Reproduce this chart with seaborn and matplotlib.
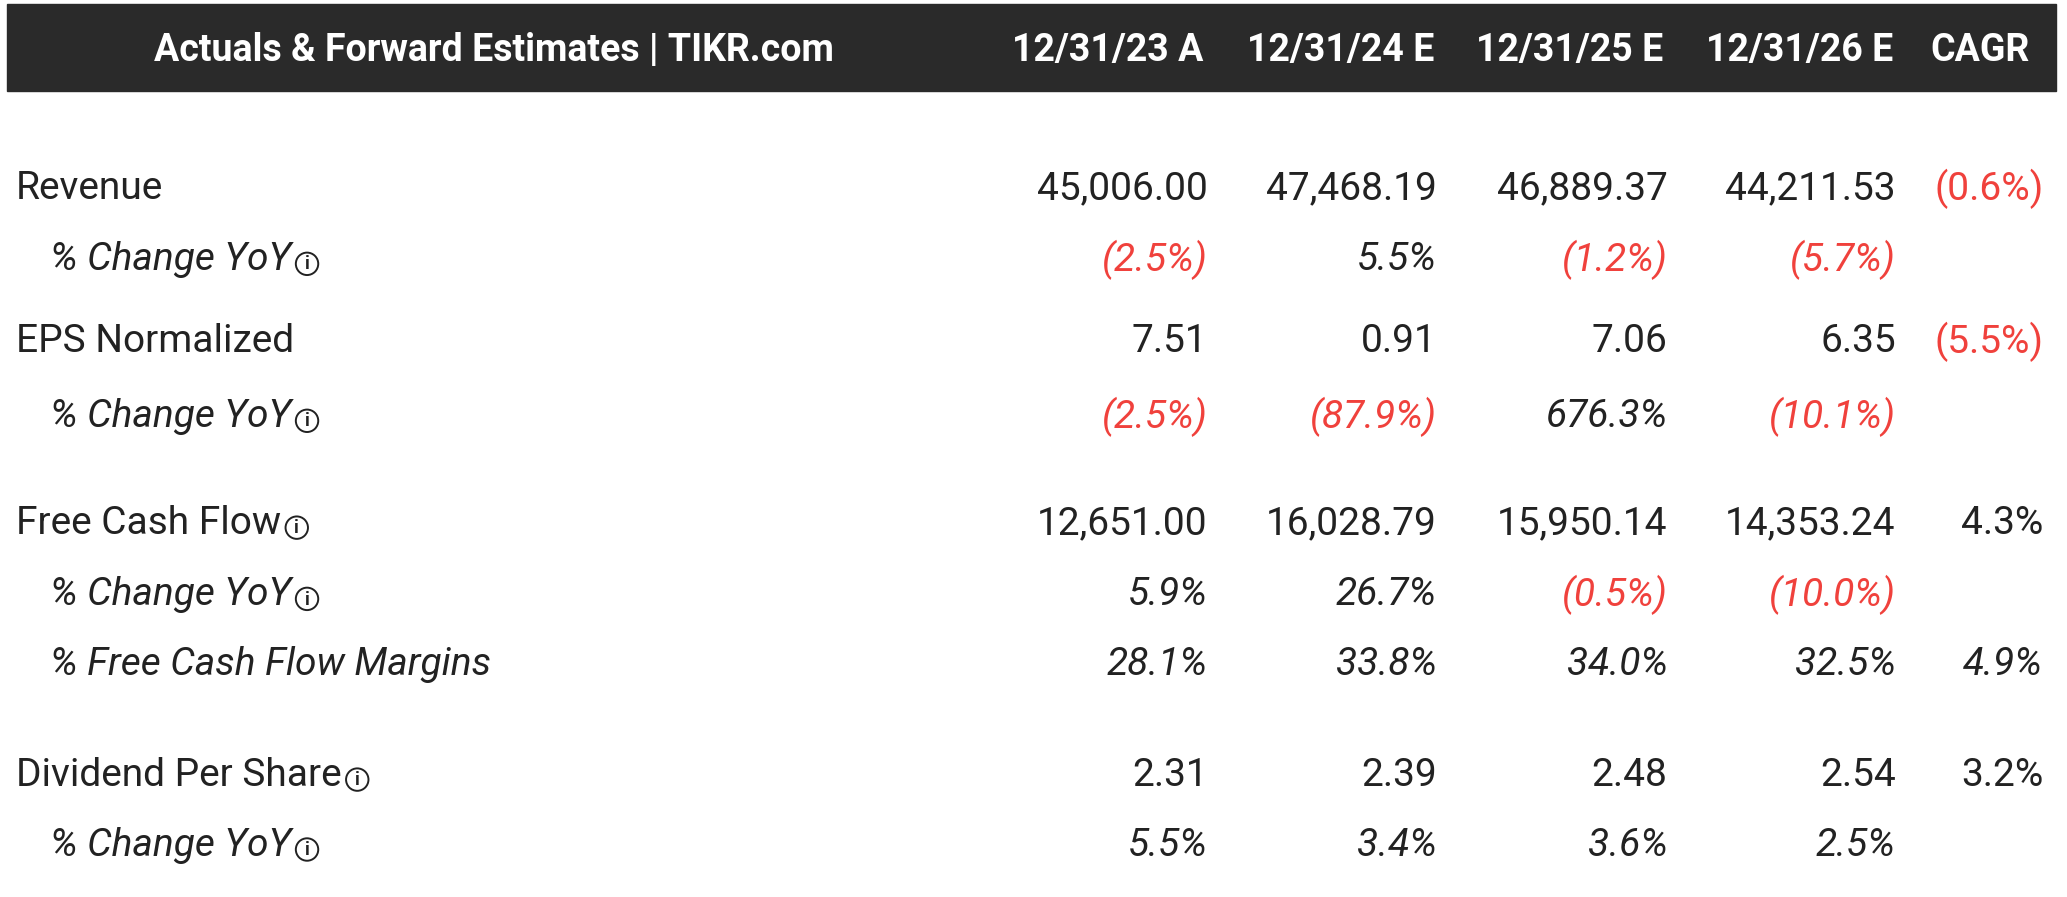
import matplotlib
matplotlib.use("Agg")
import matplotlib.pyplot as plt
import seaborn as sns
from matplotlib.patches import Rectangle, Circle

sns.set_theme(style="white")
plt.rcParams['font.family'] = ['Roboto', 'DejaVu Sans']

title = "Actuals & Forward Estimates | TIKR.com"
columns = ["12/31/23 A", "12/31/24 E", "12/31/25 E", "12/31/26 E", "CAGR"]
row_labels = ["Revenue", "% Change YoY", "EPS Normalized", "% Change YoY",
              "Free Cash Flow", "% Change YoY", "% Free Cash Flow Margins",
              "Dividend Per Share", "% Change YoY"]
row_sub = [False, True, False, True, False, True, True, False, True]
row_info = [False, True, False, True, True, True, False, True, True]
values = [
    ["45,006.00", "47,468.19", "46,889.37", "44,211.53", "(0.6%)"],
    ["(2.5%)", "5.5%", "(1.2%)", "(5.7%)", ""],
    ["7.51", "0.91", "7.06", "6.35", "(5.5%)"],
    ["(2.5%)", "(87.9%)", "676.3%", "(10.1%)", ""],
    ["12,651.00", "16,028.79", "15,950.14", "14,353.24", "4.3%"],
    ["5.9%", "26.7%", "(0.5%)", "(10.0%)", ""],
    ["28.1%", "33.8%", "34.0%", "32.5%", "4.9%"],
    ["2.31", "2.39", "2.48", "2.54", "3.2%"],
    ["5.5%", "3.4%", "3.6%", "2.5%", ""],
]

row_y = [143, 197, 259, 316, 397, 451, 504, 588, 641]
col_hdr_x = [913, 1088, 1262, 1436, 1540]
col_val_x = [916, 1090, 1265, 1438, 1550]

fig = plt.figure(figsize=(20.67, 8.97), dpi=100)
ax = fig.add_axes([0, 0, 1, 1])
ax.set_xlim(0, 1568)
ax.set_ylim(680, 0)
ax.axis("off")

ax.add_patch(Rectangle((5, 3), 1555, 66, color="#2a2a2a", zorder=0))
hfs = 27
fs = 28
ax.text(375, 38, title, color="white", fontsize=hfs, fontweight="bold",
        ha="center", va="center")
for x, c in zip(col_hdr_x, columns):
    ax.text(x, 38, c, color="white", fontsize=hfs, fontweight="bold",
            ha="right", va="center")

red = "#f0413c"
dark = "#222222"
fig.canvas.draw()
for y, lab, sub, info, vals in zip(row_y, row_labels, row_sub, row_info, values):
    x0 = 38 if sub else 12
    t = ax.text(x0, y, lab, fontsize=fs, color=dark, ha="left", va="center",
                style="italic" if sub else "normal")
    if info:
        bb = t.get_window_extent(renderer=fig.canvas.get_renderer()).transformed(ax.transData.inverted())
        cx, cy = bb.x1 + 12, y + 3
        ax.add_patch(Circle((cx, cy), 8.5, fill=False, ec=dark, lw=1.4))
        ax.text(cx, cy + 0.5, "i", fontsize=13, color=dark, ha="center",
                va="center", fontweight="bold")
    for x, v in zip(col_val_x, vals):
        if not v:
            continue
        ax.text(x, y, v, fontsize=fs, ha="right", va="center",
                color=red if v.startswith("(") else dark,
                style="italic" if sub else "normal")

fig.savefig("out.png", dpi=100, facecolor="white")
